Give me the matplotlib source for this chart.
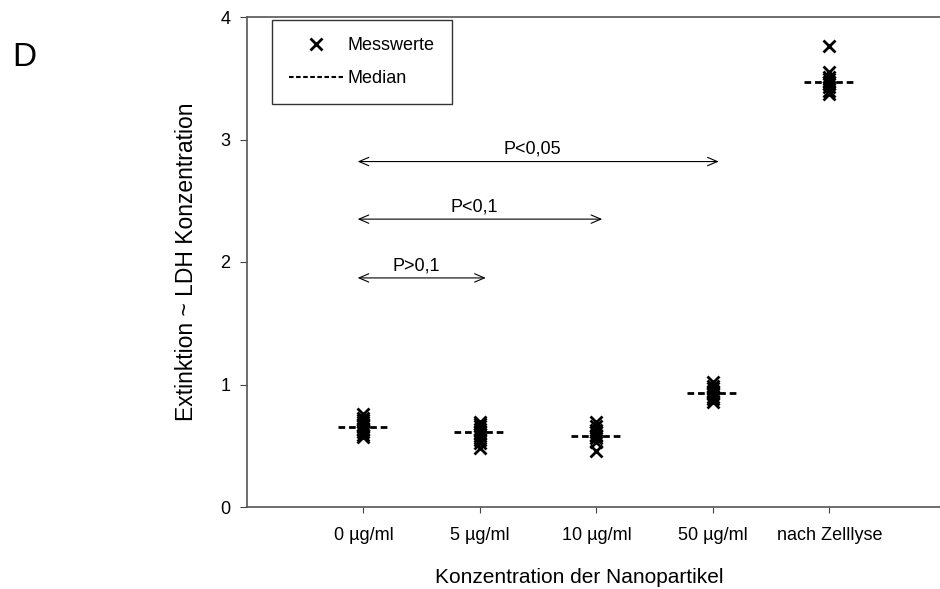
import matplotlib.pyplot as plt
from matplotlib.lines import Line2D

plt.rcParams['font.family'] = ['Liberation Sans', 'DejaVu Sans']

# Daten
gruppen = ['0 µg/ml', '5 µg/ml', '10 µg/ml', '50 µg/ml', 'nach Zelllyse']
werte_0 = [0.57, 0.59, 0.61, 0.63, 0.64, 0.66, 0.67, 0.69, 0.71, 0.73, 0.76]
werte_5 = [0.48, 0.52, 0.55, 0.58, 0.60, 0.62, 0.64, 0.66, 0.68, 0.69]
werte_10 = [0.46, 0.53, 0.56, 0.58, 0.59, 0.61, 0.63, 0.66, 0.69]
werte_50 = [0.86, 0.88, 0.90, 0.92, 0.93, 0.95, 0.97, 0.99, 1.02]
werte_lyse = [3.37, 3.40, 3.43, 3.45, 3.47, 3.49, 3.51, 3.55, 3.76]
mediane = [0.65, 0.61, 0.58, 0.93, 3.47]

# Signifikanz-Pfeile: (von, bis, Hoehe, Text)
vergleiche = [(1, 4, 2.82, 'P<0,05'),
              (1, 3, 2.35, 'P<0,1'),
              (1, 2, 1.87, 'P>0,1')]

fig = plt.figure(figsize=(9.4, 5.89), dpi=100)
ax = fig.add_axes([247 / 940, 82 / 589, 1 - 247 / 940, 490 / 589])

alle_werte = [werte_0, werte_5, werte_10, werte_50, werte_lyse]
for i, werte in enumerate(alle_werte):
    ax.plot([i + 1] * len(werte), werte, linestyle='none', marker='x',
            markersize=8, markeredgewidth=2.0, color='black')
    ax.plot([i + 1 - 0.22, i + 1 + 0.22], [mediane[i]] * 2, color='black',
            linestyle=(0, (2.4, 1.4)), linewidth=2)

for x0, x1, y, txt in vergleiche:
    ax.annotate('', xy=(x0 - 0.05, y), xytext=(x1 + 0.05, y),
                arrowprops=dict(arrowstyle='<->,head_length=0.7,head_width=0.3',
                                color='black', lw=0.8, shrinkA=0, shrinkB=0))
    ax.text((x0 + x1) / 2 - 0.05, y + 0.03, txt, ha='center', va='bottom', fontsize=13)

ax.set_xlim(0, 5.95)
ax.set_ylim(0, 4)
ax.set_xticks(range(1, 6))
ax.set_xticklabels(gruppen, fontsize=13)
ax.set_yticks([0, 1, 2, 3, 4])
ax.tick_params(axis='y', labelsize=13, length=5, color='#444444', pad=7)
ax.tick_params(axis='x', length=4.5, color='#444444', pad=10)
ax.spines['right'].set_visible(False)
for s in ['left', 'top', 'bottom']:
    ax.spines[s].set_color('#555555')
    ax.spines[s].set_linewidth(1.2)

ax.set_xlabel('Konzentration der Nanopartikel', fontsize=15)
ax.xaxis.set_label_coords(0.48, -0.125)
ax.set_ylabel('Extinktion ~ LDH Konzentration', fontsize=16.5, labelpad=16)

handles = [Line2D([], [], linestyle='none', marker='x', markersize=8,
                  markeredgewidth=2.0, color='black'),
           Line2D([], [], linestyle=(0, (2.2, 1.2)), linewidth=1.5, color='black')]
leg = ax.legend(handles, ['Messwerte', 'Median'], loc='upper left',
                bbox_to_anchor=(0.036, 0.994), borderaxespad=0, fontsize=13,
                frameon=True, fancybox=False, edgecolor='black',
                handlelength=3.0, handletextpad=0.25, borderpad=0.95,
                labelspacing=0.9)
leg.get_frame().set_linewidth(1.0)

fig.text(12 / 940, 1 - 57 / 589, 'D', fontsize=24, va='center', ha='left')

fig.savefig('out.png', dpi=100)
